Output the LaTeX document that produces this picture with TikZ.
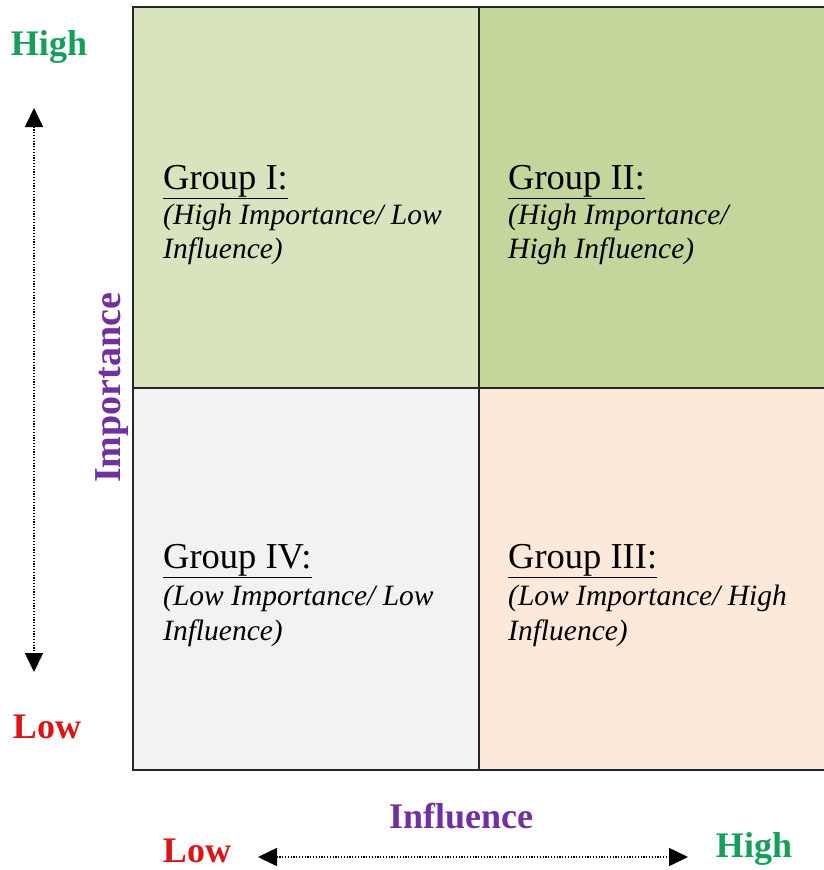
\documentclass[tikz,border=0pt]{standalone}
\usepackage{fontspec}
\setmainfont{Liberation Serif}
\usetikzlibrary{arrows.meta}
\definecolor{qOne}{HTML}{D7E4BD}
\definecolor{qTwo}{HTML}{C3D69B}
\definecolor{qFour}{HTML}{F2F2F2}
\definecolor{qThree}{HTML}{FDE9D9}
\definecolor{hiGreen}{HTML}{14A05A}
\definecolor{loRed}{HTML}{DC1418}
\definecolor{axPurple}{HTML}{7030A0}
\begin{document}
\begin{tikzpicture}[x=1pt,y=-1pt,
  grouptitle/.style={anchor=base west,inner sep=0pt,font=\fontsize{36.5}{36.5}\selectfont},
  groupline/.style={anchor=base west,inner sep=0pt,font=\fontsize{29.5}{29.5}\selectfont\itshape},
  axislabel/.style={inner sep=0pt,font=\fontsize{36}{36}\selectfont\bfseries},
  axisarrow/.style={line width=1.6pt,dash pattern=on 1.2pt off 1.6pt,{Triangle[length=19pt,width=18pt]}-{Triangle[length=19pt,width=18pt]}},
  gridline/.style={line width=2pt,black!85}]
\useasboundingbox (0,0) rectangle (823,870);
% quadrants
\fill[qOne]   (133,7)   rectangle (479,388);
\fill[qTwo]   (479,7)   rectangle (824,388);
\fill[qFour]  (133,388) rectangle (479,770);
\fill[qThree] (479,388) rectangle (824,770);
\draw[gridline] (133,7) rectangle (825,770);
\draw[gridline] (479,7) -- (479,770);
\draw[gridline] (133,388) -- (825,388);
% group texts
\node[grouptitle] (g1) at (163,189) {\underline{Group I:}};
\node[groupline] (g1a) at (163,224) {(High Importance/ Low};
\node[groupline] (g1b) at (163,258) {Influence)};
\node[grouptitle] (g2) at (508,189) {\underline{Group II:}};
\node[groupline] (g2a) at (508,224) {(High Importance/};
\node[groupline] (g2b) at (508,258) {High Influence)};
\node[grouptitle] (g4) at (163,568) {\underline{Group IV:}};
\node[groupline] (g4a) at (163,605) {(Low Importance/ Low};
\node[groupline] (g4b) at (163,640) {Influence)};
\node[grouptitle] (g3) at (508,568) {\underline{Group III:}};
\node[groupline] (g3a) at (508,605) {(Low Importance/ High};
\node[groupline] (g3b) at (508,640) {Influence)};
% axis labels
\node[axislabel,text=hiGreen] (yhigh) at (49,47) {High};
\node[axislabel,text=loRed] (ylow) at (47,727) {Low};
\node[axislabel,text=axPurple,rotate=90,font=\fontsize{38}{38}\selectfont\bfseries] (ylab) at (112,388) {Importance};
\node[axislabel,text=axPurple] (xlab) at (461,816) {Influence};
\node[axislabel,text=loRed] (xlow) at (197,851) {Low};
\node[axislabel,text=hiGreen] (xhigh) at (754,849) {High};
% arrows
\coordinate (vt) at (34,108);
\coordinate (vb) at (34,672);
\coordinate (hl) at (258,857);
\coordinate (hr) at (688,857);
\draw[axisarrow] (vt) -- (vb);
\draw[axisarrow] (hl) -- (hr);
\end{tikzpicture}
\end{document}
